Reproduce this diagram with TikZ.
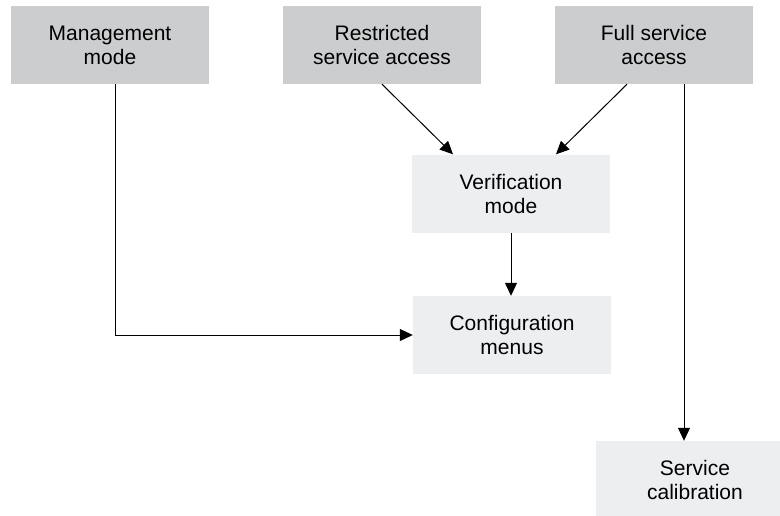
\documentclass[tikz,border=0pt]{standalone}
\usepackage{fontspec}
\setmainfont{Liberation Sans}
\usetikzlibrary{arrows.meta,positioning,calc}
\definecolor{boxdark}{RGB}{204,205,207}
\definecolor{boxlight}{RGB}{237,238,240}
\tikzset{
  modebox/.style={fill=boxdark, minimum width=198pt, minimum height=78pt,
    inner sep=0pt, align=center, font=\fontsize{21}{24}\selectfont},
  menubox/.style={modebox, fill=boxlight},
  link/.style={line width=1pt, -{Triangle[length=13pt,width=12pt]}}
}

\begin{document}
\begin{tikzpicture}[x=1pt,y=-1pt]
    \useasboundingbox (0,0) rectangle (780,515);

    % Access levels
    \node[modebox] (mgmt)  at (110,45) {Management\\mode};
    \node[modebox] (restr) at (382,45) {Restricted\\service access};
    \node[modebox] (full)  at (654,45) {Full service\\access};

    % Menus
    \node[menubox] (verif)  at (511,193.5) {Verification\\mode};
    \node[menubox] (config) at (512,335) {Configuration\\menus};
    \node[menubox] (calib)  at (695,480) {Service\\calibration};

    % Connections
    \draw[link] (restr.south) -- ([xshift=-58pt]verif.north);
    \draw[link] ([xshift=-27pt]full.south) -- ([xshift=45pt]verif.north);
    \draw[link] (verif.south) -- (verif.south |- config.north);
    \draw[link] ([xshift=5pt]mgmt.south) |- (config.west);
    \draw[link] ([xshift=30pt]full.south) -- ([xshift=30pt]full.south |- calib.north);
\end{tikzpicture}
\end{document}
